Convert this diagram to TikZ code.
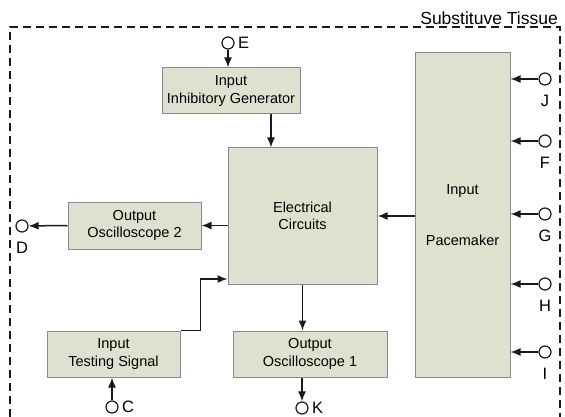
\documentclass[tikz,border=0pt]{standalone}
\usepackage{fontspec}
\setmainfont{Liberation Sans}
\usepackage{tikz}
\usetikzlibrary{positioning,arrows.meta,calc}
\definecolor{BlockFill}{HTML}{DCE2CF}
\definecolor{BlockLine}{HTML}{8A8A8A}
\definecolor{WireBlack}{HTML}{1A1A1A}

\begin{document}
\begin{tikzpicture}[
  x=1pt, y=-1pt,
  block/.style={draw=BlockLine,fill=BlockFill,line width=1pt,inner sep=0pt,align=center,font=\fontsize{14.5}{17.5}\selectfont},
  port/.style={circle,draw=WireBlack,fill=white,line width=1.2pt,minimum size=12pt,inner sep=0pt,label distance=4pt},
  arrow/.style={-{Latex[length=10pt,width=8pt]},line width=1.5pt,WireBlack},
  every label/.style={font=\fontsize{16.5}{18}\selectfont}
]
\useasboundingbox (0,0) rectangle (565,417);
% substitute tissue frame
\draw[line width=1.5pt,dash pattern=on 8pt off 5pt,WireBlack] (10,417) -- (10,27) -- (560,27) -- (560,417);
\node[anchor=south east,inner sep=1pt,font=\fontsize{17.5}{20}\selectfont] (tissue) at (559,26) {Substituve Tissue};

% blocks
\node[block,minimum width=138pt,minimum height=46pt] (gen) at (231,91) {Input\\Inhibitory Generator};
\node[block,minimum width=149pt,minimum height=136pt] (ec) at (302.5,216) {Electrical\\Circuits};
\node[block,minimum width=133pt,minimum height=47pt] (osc2) at (134.5,225.5) {Output\\Oscilloscope 2};
\node[block,minimum width=95pt,minimum height=324pt] (pm) at (462.5,215) {Input\\[33pt]Pacemaker};
\node[block,minimum width=133pt,minimum height=46pt] (ts) at (113.5,354) {Input\\Testing Signal};
\node[block,minimum width=154pt,minimum height=46pt] (osc1) at (310,354) {Output\\Oscilloscope 1};

% ports
\node[port,label=right:E] (E) at (228,43) {};
\node[port,label={[label distance=6pt]below:D}] (D) at (22,226) {};
\node[port,label=right:C] (C) at (112,407) {};
\node[port,label=right:K] (K) at (302,408) {};
\node[port,label={[label distance=6pt]below:J}] (J) at (545,79) {};
\node[port,label={[label distance=6pt]below:F}] (F) at (545,141) {};
\node[port,label={[label distance=6pt]below:G}] (G) at (545,214) {};
\node[port,label={[label distance=6pt]below:H}] (H) at (545,284) {};
\node[port,label={[label distance=6pt]below:I}] (I) at (545,352) {};

% connections
\draw[arrow] (E) -- (E |- gen.north);
\draw[arrow] ([xshift=40pt]gen.south) -- ([xshift=40pt]gen.south |- ec.north);
\draw[arrow] (ec.west |- osc2) -- (osc2.east);
\draw[arrow] (osc2.west) -- (D);
\draw[arrow] (pm.west |- ec) -- (ec.east);
\foreach \p in {J,F,G,H,I}
  \draw[arrow] (\p) -- (\p -| pm.east);
\draw[arrow] (C) -- (C |- ts.south);
\draw[arrow] (ts.north east) -- ++(20pt,0) |- ([yshift=-63pt]ec.west);
\draw[arrow] (ec.south) -- (ec.south |- osc1.north);
\draw[arrow] (osc1.south -| K) -- (K);
\end{tikzpicture}
\end{document}
